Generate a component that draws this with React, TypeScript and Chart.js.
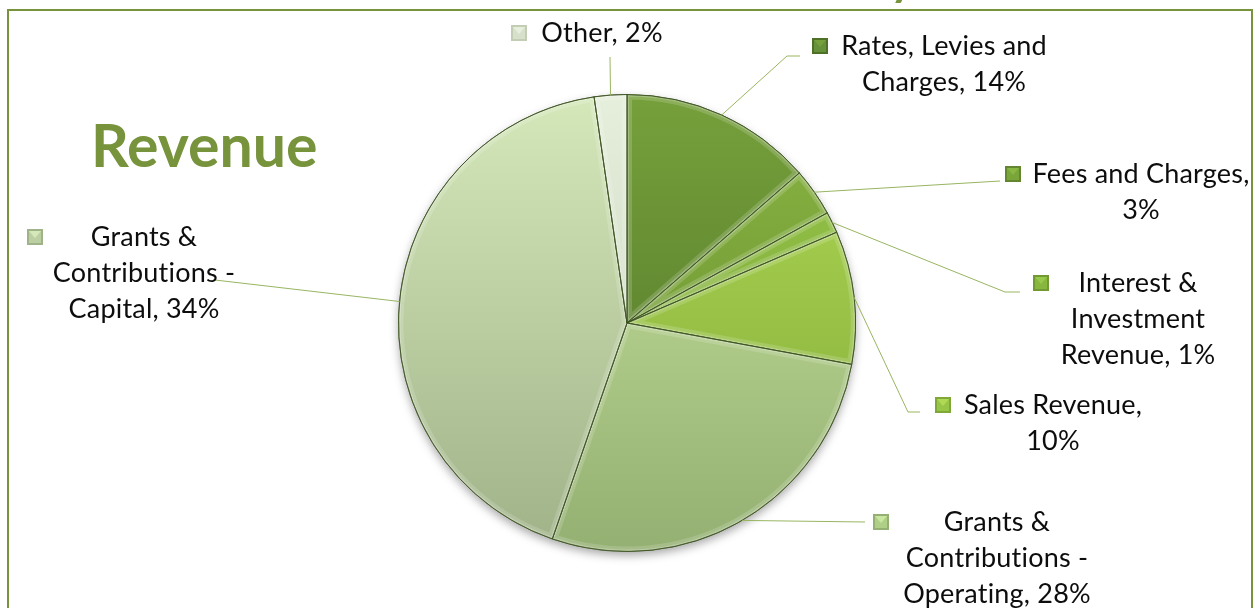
import React, { useEffect, useRef } from "react";
import { Chart, registerables } from "chart.js";

Chart.register(...registerables);

// ---- data ----
const categories = [
  "Rates, Levies and Charges",
  "Fees and Charges",
  "Interest & Investment Revenue",
  "Sales Revenue",
  "Grants & Contributions - Operating",
  "Grants & Contributions - Capital",
  "Other",
];
const sliceValues = [13.6, 3.4, 1.5, 9.4, 27.4, 42.4, 2.3];
const labelPercents = ["14%", "3%", "1%", "10%", "28%", "34%", "2%"];
const labelLines = [
  ["Rates, Levies and", "Charges, " + labelPercents[0]],
  ["Fees and Charges,", labelPercents[1]],
  ["Interest &", "Investment", "Revenue, " + labelPercents[2]],
  ["Sales Revenue,", labelPercents[3]],
  ["Grants &", "Contributions -", "Operating, " + labelPercents[4]],
  ["Grants &", "Contributions -", "Capital, " + labelPercents[5]],
  ["Other, " + labelPercents[6]],
];
const chartTitle = "Revenue";

// ---- styles ----
const SLICE_TOP = ["#76a03b", "#8ab642", "#99c94a", "#b0da56", "#cbe6a0", "#d5e8ba", "#e6efdc"];
const SLICE_BOTTOM = ["#4d7127", "#62872e", "#729a33", "#80a836", "#94b072", "#a0b288", "#c3cdb6"];
const SLICE_MID = ["#66903a", "#7aa53a", "#88b63f", "#98c447", "#b0cf86", "#bccfa3", "#d6e0cb"];
const GREEN = "#77933c";
const LEADER = "#98b561";
const FONT = "Lato, 'Open Sans', sans-serif";
const FONT_SIZE = 27;
const LINE_H = 36;

// label annotation layout (text block centre, first baseline, marker left, leader path)
const LABEL_LAYOUT = [
  { cx: 944, base: 55, mx: 812, leader: [[787, 56], [800, 56]] },
  { cx: 1141, base: 183, mx: 1005, leader: [[1000, 181]] },
  { cx: 1138, base: 292, mx: 1033, leader: [[1005, 292], [1020, 292]] },
  { cx: 1053, base: 414, mx: 935, leader: [[908, 412], [920, 412]] },
  { cx: 997, base: 531, mx: 873, leader: [[865, 522]] },
  { cx: 144, base: 246, mx: 27, leader: [[215, 280]] },
  { cx: 602, base: 42, mx: 511, leader: [[610, 57]] },
];

function sliceFill(c: any) {
  const chart = c.chart;
  const area = chart.chartArea;
  const i = c.dataIndex ?? 0;
  if (!area) return SLICE_MID[i];
  const g = chart.ctx.createLinearGradient(0, area.top, 0, area.bottom);
  g.addColorStop(0, SLICE_TOP[i]);
  g.addColorStop(1, SLICE_BOTTOM[i]);
  return g;
}

function drawMarker(ctx: CanvasRenderingContext2D, x: number, yc: number, i: number) {
  const s = 16;
  const y = yc - s / 2;
  ctx.save();
  ctx.fillStyle = SLICE_BOTTOM[i];
  ctx.fillRect(x, y, s, s);
  ctx.fillStyle = SLICE_MID[i];
  ctx.fillRect(x + 2, y + 2, s - 4, s - 4);
  ctx.beginPath();
  ctx.moveTo(x + 2, y + 2);
  ctx.lineTo(x + s - 2, y + 2);
  ctx.lineTo(x + s / 2, y + s / 2 + 1);
  ctx.closePath();
  ctx.fillStyle = SLICE_TOP[i];
  ctx.fill();
  ctx.restore();
}

const overlay = {
  id: "overlay",
  beforeDatasetsDraw(chart: any) {
    const ctx = chart.ctx as CanvasRenderingContext2D;
    const arc = chart.getDatasetMeta(0).data[0] as any;
    if (!arc) return;
    const { x, y, outerRadius } = arc.getProps(["x", "y", "outerRadius"], true);
    ctx.save();
    ctx.shadowColor = "rgba(0,0,0,0.35)";
    ctx.shadowBlur = 10;
    ctx.shadowOffsetY = 4;
    ctx.beginPath();
    ctx.arc(x, y, outerRadius, 0, Math.PI * 2);
    ctx.fillStyle = "#a9bf8c";
    ctx.fill();
    ctx.restore();
  },
  afterDatasetsDraw(chart: any) {
    const ctx = chart.ctx as CanvasRenderingContext2D;
    const meta = chart.getDatasetMeta(0);
    meta.data.forEach((el: any) => {
      const { x, y, startAngle, endAngle, outerRadius } = el.getProps(
        ["x", "y", "startAngle", "endAngle", "outerRadius"],
        true
      );
      ctx.save();
      ctx.beginPath();
      ctx.moveTo(x, y);
      ctx.arc(x, y, outerRadius, startAngle, endAngle);
      ctx.closePath();
      ctx.clip();
      ctx.lineJoin = "round";
      ctx.lineWidth = 10;
      ctx.strokeStyle = "rgba(255,255,255,0.16)";
      ctx.stroke();
      ctx.lineWidth = 4;
      ctx.strokeStyle = "rgba(255,255,255,0.22)";
      ctx.stroke();
      ctx.restore();
      ctx.save();
      ctx.beginPath();
      ctx.moveTo(x, y);
      ctx.arc(x, y, outerRadius, startAngle, endAngle);
      ctx.closePath();
      ctx.lineWidth = 1;
      ctx.strokeStyle = "rgba(55,78,28,0.8)";
      ctx.stroke();
      ctx.restore();
    });
  },
  afterDraw(chart: any) {
    const ctx = chart.ctx as CanvasRenderingContext2D;
    const meta = chart.getDatasetMeta(0);
    ctx.save();
    // frame
    ctx.strokeStyle = GREEN;
    ctx.lineWidth = 2;
    ctx.strokeRect(8, 10, 1244, 700);
    // cut-off title descender
    ctx.fillStyle = GREEN;
    ctx.font = `bold 46px ${FONT}`;
    ctx.textAlign = "left";
    ctx.textBaseline = "alphabetic";
    ctx.fillText("y", 890, -5);
    // title
    ctx.font = `bold 59px ${FONT}`;
    ctx.fillText(chartTitle, 91, 167);
    // leader lines
    meta.data.forEach((el: any, i: number) => {
      const { x, y, startAngle, endAngle, outerRadius } = el.getProps(
        ["x", "y", "startAngle", "endAngle", "outerRadius"],
        true
      );
      const mid = (startAngle + endAngle) / 2;
      const L = LABEL_LAYOUT[i];
      ctx.beginPath();
      ctx.moveTo(x + outerRadius * Math.cos(mid), y + outerRadius * Math.sin(mid));
      L.leader.forEach((p) => ctx.lineTo(p[0], p[1]));
      ctx.strokeStyle = LEADER;
      ctx.lineWidth = 1;
      ctx.stroke();
    });
    // labels
    (ctx as any).letterSpacing = "0.2px";
    labelLines.forEach((lines, i) => {
      const L = LABEL_LAYOUT[i];
      drawMarker(ctx, L.mx, L.base - 9, i);
      ctx.fillStyle = "#0d0d0d";
      ctx.font = `${FONT_SIZE}px ${FONT}`;
      ctx.textAlign = "center";
      ctx.textBaseline = "alphabetic";
      lines.forEach((t, k) => ctx.fillText(t, L.cx, L.base + k * LINE_H));
    });
    ctx.restore();
  },
};

export default function App() {
  const ref = useRef<HTMLCanvasElement>(null);
  useEffect(() => {
    const canvas = ref.current;
    if (!canvas) return;
    const chart = new Chart(canvas, {
      type: "pie",
      data: {
        labels: categories,
        datasets: [
          {
            data: sliceValues,
            backgroundColor: sliceFill as any,
            borderColor: "rgba(55,78,28,0.8)",
            borderWidth: 1,
          },
        ],
      },
      options: {
        animation: false,
        responsive: true,
        maintainAspectRatio: false,
        layout: { padding: { left: 398, right: 401, top: 94, bottom: 56 } },
        plugins: {
          legend: { display: false },
          tooltip: { enabled: false },
        },
      },
      plugins: [overlay as any],
    });
    return () => chart.destroy();
  }, []);
  return (
    <div
      style={{
        position: "fixed",
        left: 0,
        top: 0,
        width: 1257,
        height: 608,
        background: "#ffffff",
      }}
    >
      <canvas ref={ref} />
    </div>
  );
}
